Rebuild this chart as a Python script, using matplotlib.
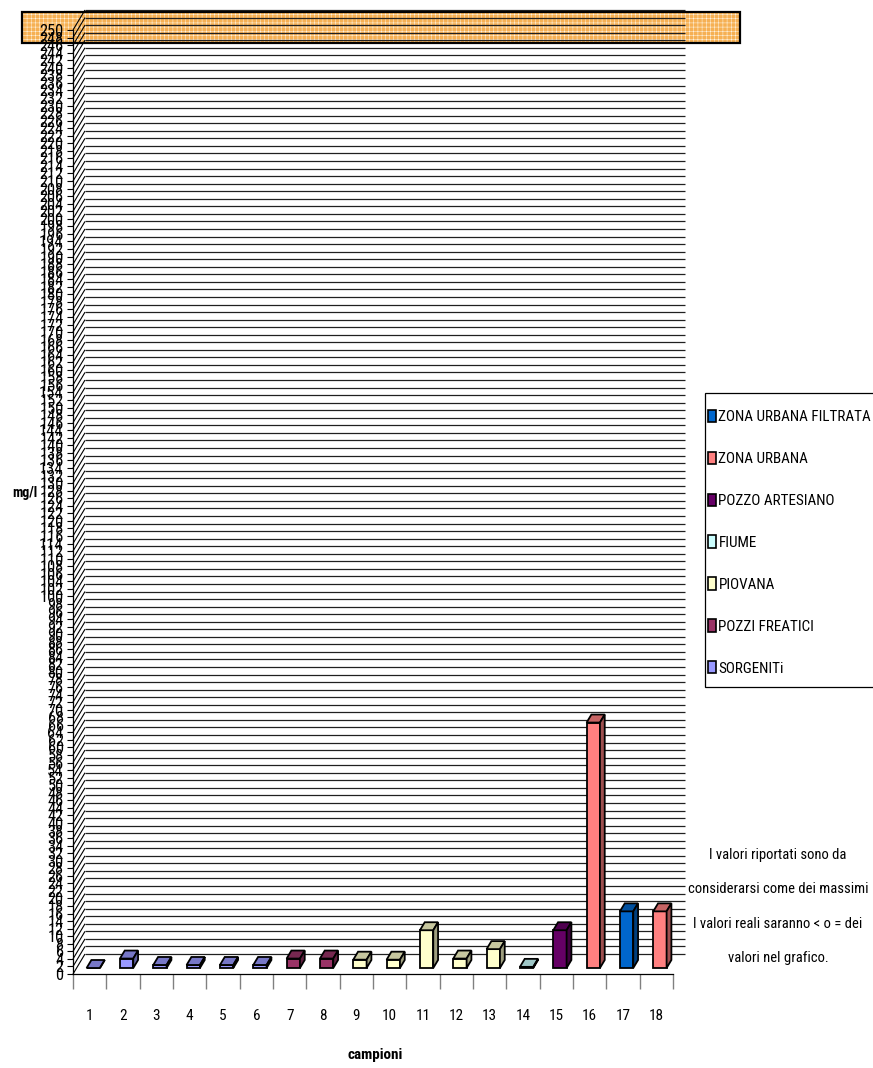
import numpy as np
import matplotlib
matplotlib.use("Agg")
import matplotlib.pyplot as plt
from matplotlib import font_manager
from matplotlib.patches import Polygon, Rectangle, Patch
from matplotlib.collections import LineCollection
from matplotlib.colors import to_rgb

# ---- data -------------------------------------------------------------
samples = [str(i) for i in range(1, 19)]
concentrations = [0, 2.5, 0.8, 0.8, 0.8, 0.8, 2.5, 2.5, 2.2, 2.2,
                  10, 2.5, 5, 0.3, 10, 65, 15, 15]
sample_type = (["SORGENITi"] * 6 + ["POZZI FREATICI"] * 2 + ["PIOVANA"] * 5 +
               ["FIUME", "POZZO ARTESIANO", "ZONA URBANA",
                "ZONA URBANA FILTRATA", "ZONA URBANA"])
legend_order = ["ZONA URBANA FILTRATA", "ZONA URBANA", "POZZO ARTESIANO",
                "FIUME", "PIOVANA", "POZZI FREATICI", "SORGENITi"]
type_colors = {
    "SORGENITi": "#9999FF",
    "POZZI FREATICI": "#993366",
    "PIOVANA": "#FFFFCC",
    "FIUME": "#CCFFFF",
    "POZZO ARTESIANO": "#660066",
    "ZONA URBANA": "#FF8080",
    "ZONA URBANA FILTRATA": "#0066CC",
}
y_max = 250
y_step = 2
y_label = "mg/l"
x_label = "campioni"
note_lines = ["I valori riportati sono da",
              "considerarsi come dei massimi",
              "I valori reali saranno < o = dei",
              "valori nel grafico."]


# ---- fonts: prefer a narrow sans if one is installed --------------------
def pick_narrow():
    ttf = font_manager.fontManager.ttflist
    names = {f.name for f in ttf}
    for cand in ("Liberation Sans Narrow", "Arial Narrow", "Roboto Condensed",
                 "Open Sans Condensed", "Noto Sans Condensed",
                 "DejaVu Sans Condensed"):
        if cand in names:
            return cand, "normal"
    for f in ttf:
        if (f.stretch in ("condensed", "semi-condensed", "extra-condensed")
                and f.name in ("Liberation Sans", "Roboto", "Open Sans",
                               "Noto Sans", "DejaVu Sans")):
            return f.name, f.stretch
    return "Liberation Sans", "normal"


FAMILY, STRETCH = pick_narrow()
plt.rcParams["font.family"] = [FAMILY, "DejaVu Sans"]
plt.rcParams["font.stretch"] = STRETCH
plt.rcParams["hatch.linewidth"] = 0.35

# ---- figure / axes (front plane of the 3-D box) -----------------------
W, H = 873, 1068
fig = plt.figure(figsize=(W / 100, H / 100), dpi=100)
renderer = fig.canvas.get_renderer()


def fit_size(text, width_px, weight="normal", base=12.0):
    """Font size at which `text` is `width_px` pixels wide."""
    t = fig.text(0, 0, text, fontsize=base, fontweight=weight)
    w = t.get_window_extent(renderer=renderer).width
    t.remove()
    return base * width_px / w


fs_legend = fit_size("ZONA URBANA FILTRATA", 152)
fs_note = fit_size("considerarsi come dei massimi", 179)
fs_ytick = fit_size("250", 24)
fs_xtick = fit_size("18", 15)
fs_xlabel = fit_size(x_label, 56, "bold")
fs_ylabel = fit_size(y_label, 25, "bold")

ax = fig.add_axes([73 / W, 1 - 974 / H, 600 / W, 944 / H])
n = len(samples)
ax.set_xlim(0.5, n + 0.5)
ax.set_ylim(0, y_max)
ax.patch.set_visible(False)
for s in ("top", "right"):
    ax.spines[s].set_visible(False)
for s in ("left", "bottom"):
    ax.spines[s].set_linewidth(0.9)
    ax.spines[s].set_color("black")

# depth of the oblique projection, in data units
px_x = 600 / n
px_y = 944 / y_max
DX = 12 / px_x
DY = 20 / px_y

# highlighted band behind the top of the value axis
band_xy = (22 / W, 1 - 43 / H)
band_w, band_h = 718 / W, 31 / H
fig.patches.append(Rectangle(band_xy, band_w, band_h, transform=fig.transFigure,
                             facecolor="#F6B053", edgecolor="#FFF6E6",
                             hatch="++++", linewidth=0, zorder=-2))
fig.patches.append(Rectangle(band_xy, band_w, band_h, transform=fig.transFigure,
                             facecolor="none", edgecolor="black",
                             linewidth=1.6, zorder=-1))

# back wall gridlines and side-wall diagonals
ticks = np.arange(0, y_max + 1, y_step)
ax.hlines(ticks + DY, 0.5 + DX, n + 0.5 + DX, colors="#202020", linewidth=0.9,
          clip_on=False, zorder=1)
diag = [[(0.5, t), (0.5 + DX, t + DY)] for t in ticks]
ax.add_collection(LineCollection(diag, colors="black", linewidths=0.8,
                                 clip_on=False, zorder=1))

# ---- 3-D columns ------------------------------------------------------
BAR_W = 0.4
f0, f1 = 0.3, 0.7
ddx, ddy = (f1 - f0) * DX, (f1 - f0) * DY


def shade(c, k):
    r, g, b = to_rgb(c)
    return (r * k, g * k, b * k)


for i, (v, t) in enumerate(zip(concentrations, sample_type)):
    xc = i + 1 + f0 * DX
    y0 = f0 * DY
    col = type_colors[t]
    z = 3 + i * 0.01
    ax.bar(xc, v, width=BAR_W, bottom=y0, color=col, edgecolor="black",
           linewidth=1.3, zorder=z, clip_on=False)
    xl, xr = xc - BAR_W / 2, xc + BAR_W / 2
    top = Polygon([(xl, y0 + v), (xr, y0 + v), (xr + ddx, y0 + v + ddy),
                   (xl + ddx, y0 + v + ddy)], closed=True,
                  facecolor=shade(col, 0.78), edgecolor="black",
                  linewidth=1.3, joinstyle="miter", zorder=z, clip_on=False)
    side = Polygon([(xr, y0), (xr + ddx, y0 + ddy), (xr + ddx, y0 + v + ddy),
                    (xr, y0 + v)], closed=True,
                   facecolor=shade(col, 0.62), edgecolor="black",
                   linewidth=1.3, joinstyle="miter", zorder=z, clip_on=False)
    ax.add_patch(top)
    ax.add_patch(side)

# ---- axes ticks / labels ----------------------------------------------
ax.set_yticks(ticks)
ax.set_yticklabels([str(t) for t in ticks], fontsize=fs_ytick)
ax.tick_params(axis="y", length=4.3, width=0.8, pad=2.5, direction="out")

ax.set_xticks(np.arange(1, n + 1))
ax.set_xticklabels(samples, fontsize=fs_xtick)
ax.tick_params(axis="x", which="major", length=0, pad=25)
ax.set_xticks(np.arange(0.5, n + 1, 1), minor=True)
ax.tick_params(axis="x", which="minor", length=10.8, width=1.0, color="#808080")

fig.text(25 / W, 1 - 493 / H, y_label, fontsize=fs_ylabel, fontweight="bold",
         ha="center", va="center")
fig.text(375 / W, 1 - 1055 / H, x_label, fontsize=fs_xlabel, fontweight="bold",
         ha="center", va="center")

# ---- legend (entries + separate frame reaching past the right edge) ----
fpx = fs_legend * 100 / 72
fig.patches.append(Rectangle((705 / W, 1 - 687 / H), 180 / W, 294 / H,
                             transform=fig.transFigure, facecolor="white",
                             edgecolor="black", linewidth=0.9, zorder=1.5))
handles = [Patch(facecolor=type_colors[k], edgecolor="black", linewidth=1.2,
                 label=k) for k in legend_order]
leg = fig.legend(handles=handles, loc="upper left",
                 bbox_to_anchor=(708 / W, 1 - (419 - 0.62 * fpx) / H),
                 frameon=False, fontsize=fs_legend,
                 handlelength=8 / fpx, handleheight=13 / fpx,
                 handletextpad=2.5 / fpx, labelspacing=43.5 / fpx - 1.05,
                 borderpad=0, borderaxespad=0)
leg.set_zorder(2)

# ---- note -------------------------------------------------------------
for k, line in enumerate(note_lines):
    fig.text(778 / W, 1 - (855 + k * 34.3) / H, line, fontsize=fs_note,
             ha="center", va="center")

fig.savefig("out.png", dpi=100)
